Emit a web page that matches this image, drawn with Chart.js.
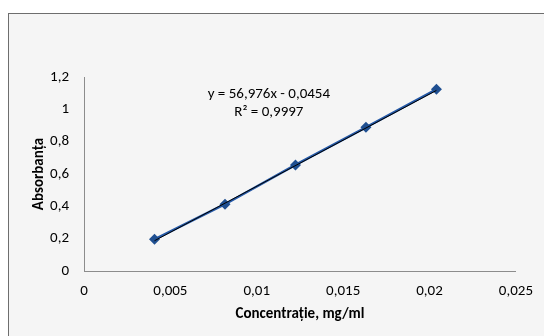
<!DOCTYPE html>
<html>
<head>
<meta charset="utf-8">
<script src="https://cdn.jsdelivr.net/npm/chart.js@4"></script>
<style>
  html, body { margin: 0; padding: 0; background: #ffffff; }
  #frame {
    position: absolute; left: 8px; top: 13px; width: 600px; height: 400px;
    background: #f5f5f5; border: 1px solid #6e6e6e;
  }
  #wrap { position: absolute; left: 0; top: 0; width: 544px; height: 336px; }
</style>
</head>
<body>
<div id="frame"></div>
<div id="wrap"><canvas id="absChart" width="544" height="336"></canvas></div>
<script>
// concentratii (mg/ml) si absorbante
const concentratii = [0.00408, 0.00816, 0.01224, 0.01632, 0.0204];
const absorbante = [0.196, 0.413, 0.656, 0.889, 1.124];
const panta = 56.976;
const interceptie = -0.0454;
const ecuatie = ['y = 56,976x - 0,0454', 'R² = 0,9997'];

const puncte = concentratii.map((c, i) => ({ x: c, y: absorbante[i] }));
const capete = [concentratii[0], concentratii[concentratii.length - 1]];
const trend = capete.map(c => ({ x: c, y: panta * c + interceptie }));

const fmt = v => String(+v.toFixed(4)).replace('.', ',');
const font = 'Calibri, Carlito, Lato, sans-serif';

const ecuatiePlugin = {
    id: 'ecuatie',
    afterDatasetsDraw(chart) {
        const ctx = chart.ctx;
        const x = chart.scales.x.getPixelForValue(0.0107);
        const y = chart.scales.y.getPixelForValue(1.03);
        ctx.save();
        ctx.fillStyle = '#000';
        ctx.font = '15px ' + font;
        ctx.textAlign = 'center';
        ctx.textBaseline = 'middle';
        ctx.fillText(ecuatie[0], x, y - 10);
        ctx.fillText(ecuatie[1], x, y + 8);
        ctx.restore();
    }
};

var ctx = document.getElementById('absChart').getContext('2d');
var chart = new Chart(ctx, {
    type: 'scatter',
    data: {
        datasets: [{
            label: 'Absorbanta',
            data: puncte,
            showLine: true,
            borderColor: '#2458a6',
            borderWidth: 2.5,
            backgroundColor: '#1f4f91',
            pointStyle: 'rectRot',
            pointRadius: 5.5,
            pointBorderWidth: 0,
            order: 2
        }, {
            label: 'Trend',
            data: trend,
            showLine: true,
            borderColor: '#000000',
            borderWidth: 1,
            pointRadius: 0,
            order: 1
        }]
    },
    options: {
        responsive: false,
        animation: false,
        layout: { padding: { top: 77, right: 22, bottom: 0, left: 0 } },
        plugins: { legend: { display: false }, tooltip: { enabled: false } },
        scales: {
            x: {
                type: 'linear', min: 0, max: 0.025,
                grid: { display: false, drawTicks: false },
                border: { color: '#8c8c8c' },
                ticks: { stepSize: 0.005, padding: 11, color: '#000', maxRotation: 0,
                         font: { family: font, size: 15 }, callback: fmt },
                title: { display: true, text: 'Concentrație, mg/ml', color: '#000',
                         font: { family: font, size: 15, weight: 'bold' },
                         padding: { top: 0, bottom: 13 } },
                afterFit: s => { s.height = 65; }
            },
            y: {
                type: 'linear', min: 0, max: 1.2,
                grid: { display: false, drawTicks: false },
                border: { color: '#8c8c8c' },
                ticks: { stepSize: 0.2, padding: 15, color: '#000',
                         font: { family: font, size: 15 }, callback: fmt },
                title: { display: true, text: 'Absorbanța', color: '#000',
                         font: { family: font, size: 15, weight: 'bold' },
                         padding: { top: 30, bottom: 0 } },
                afterFit: s => { s.width = 84; }
            }
        }
    },
    plugins: [ecuatiePlugin]
});
</script>
</body>
</html>
